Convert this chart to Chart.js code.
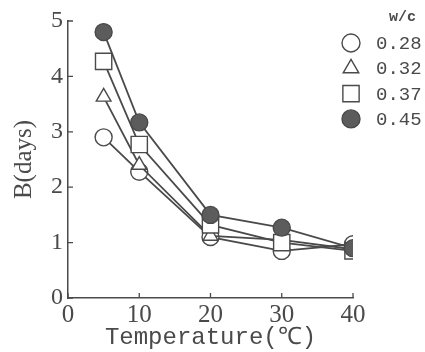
<!DOCTYPE html>
<html>
<head>
<meta charset="utf-8">
<script src="https://cdn.jsdelivr.net/npm/chart.js@4.4.1/dist/chart.umd.min.js"></script>
<style>
  html, body { margin: 0; padding: 0; background: #fff; }
  #wrap { width: 425px; height: 352px; position: relative; }
</style>
</head>
<body>
<div id="wrap"><canvas id="chart"></canvas></div>
<script>
// Data
const temperatures = [5, 10, 20, 30, 40];
const wcLabels = ['0.28', '0.32', '0.37', '0.45'];
const wc028 = [2.9, 2.28, 1.1, 0.85, 0.97];
const wc032 = [3.63, 2.4, 1.12, 1.05, 0.88];
const wc037 = [4.27, 2.77, 1.32, 1.0, 0.85];
const wc045 = [4.8, 3.17, 1.5, 1.27, 0.9];
const xTicks = [0, 10, 20, 30, 40];
const yTicks = [0, 1, 2, 3, 4, 5];

const ink = '#4a4a4a';
const styles = [
  { pointStyle: 'circle', radius: 8.5, fill: '#fff' },
  { pointStyle: 'triangle', radius: 8.5, fill: '#fff' },
  { pointStyle: 'rect', radius: 11.5, fill: '#fff' },
  { pointStyle: 'circle', radius: 8.5, fill: '#5c5c5c' }
];

const series = [wc028, wc032, wc037, wc045];
const datasets = series.map((vals, i) => ({
  label: wcLabels[i],
  data: temperatures.map((t, j) => ({ x: t, y: vals[j] })),
  showLine: true,
  borderColor: ink,
  borderWidth: 1.8,
  pointStyle: styles[i].pointStyle,
  pointRadius: styles[i].radius,
  pointBackgroundColor: styles[i].fill,
  pointBorderColor: ink,
  pointBorderWidth: 1.4,
  order: 4 - i
}));

// inward tick marks
const innerTicks = {
  id: 'innerTicks',
  afterDatasetsDraw(chart) {
    const { ctx, scales: { x, y } } = chart;
    ctx.save();
    ctx.strokeStyle = ink;
    ctx.lineWidth = 1.3;
    ctx.beginPath();
    yTicks.forEach(v => {
      const py = y.getPixelForValue(v);
      ctx.moveTo(x.left, py);
      ctx.lineTo(x.left + 5, py);
    });
    xTicks.forEach(v => {
      const px = x.getPixelForValue(v);
      ctx.moveTo(px, y.bottom);
      ctx.lineTo(px, y.bottom - 5);
    });
    ctx.stroke();
    ctx.restore();
  }
};

// legend in the top right corner
const wcLegend = {
  id: 'wcLegend',
  afterDraw(chart) {
    const { ctx } = chart;
    ctx.save();
    ctx.fillStyle = ink;
    ctx.font = 'bold 15px "Liberation Mono"';
    ctx.textAlign = 'left';
    ctx.textBaseline = 'middle';
    ctx.fillText('w/c', 389, 17);
    ctx.font = '19px "Liberation Mono"';
    chart.data.datasets.forEach((ds, i) => {
      const yy = 43 + i * 25.3;
      ctx.strokeStyle = ink;
      ctx.lineWidth = 1.4;
      ctx.fillStyle = ds.pointBackgroundColor;
      Chart.helpers.drawPoint(ctx, {
        pointStyle: ds.pointStyle,
        radius: ds.pointStyle === 'rect' ? 11.5 : 9,
        borderWidth: 1.4
      }, 351, yy);
      ctx.fillStyle = ink;
      ctx.fillText(ds.label, 376, yy + 1);
    });
    ctx.restore();
  }
};

new Chart(document.getElementById('chart'), {
  type: 'scatter',
  data: { datasets },
  options: {
    responsive: true,
    maintainAspectRatio: false,
    animation: false,
    layout: { padding: { left: 0, right: 72, top: 21, bottom: 0 } },
    plugins: { legend: { display: false }, tooltip: { enabled: false } },
    scales: {
      x: {
        type: 'linear',
        min: 0,
        max: 40,
        afterBuildTicks: s => { s.ticks = xTicks.map(v => ({ value: v })); },
        afterFit: s => { s.height = 54; },
        grid: { display: true, drawOnChartArea: false, drawTicks: false },
        border: { color: ink, width: 1.5 },
        ticks: { color: ink, padding: 2, font: { family: 'Liberation Serif', size: 25 } },
        title: {
          display: true,
          text: 'Temperature(℃)',
          color: ink,
          padding: { top: 0, bottom: 0 },
          font: { family: 'Liberation Mono', size: 24 }
        }
      },
      y: {
        min: 0,
        max: 5,
        afterBuildTicks: s => { s.ticks = yTicks.map(v => ({ value: v })); },
        afterFit: s => { s.width = 68; },
        grid: { display: true, drawOnChartArea: false, drawTicks: false },
        border: { color: ink, width: 1.5 },
        ticks: { color: ink, padding: 5, font: { family: 'Liberation Serif', size: 24 } },
        title: {
          display: true,
          text: 'B(days)',
          color: ink,
          padding: { top: 9, bottom: 0 },
          font: { family: 'Liberation Serif', size: 25 }
        }
      }
    }
  },
  plugins: [innerTicks, wcLegend]
});
</script>
</body>
</html>
